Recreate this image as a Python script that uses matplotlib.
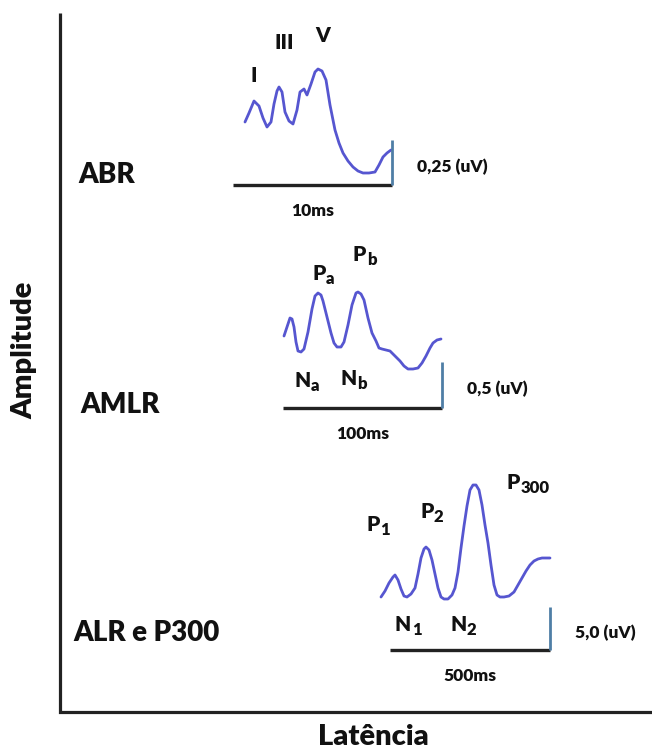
import matplotlib
matplotlib.use("Agg")
import matplotlib.pyplot as plt

# ---------------- data (in picture coordinates) -------------
abr_x = [245, 249, 254, 259, 263, 267, 271, 274, 277, 279, 282, 285, 289, 293, 297, 300, 304, 307,
         311, 315, 318, 322, 326, 330, 335, 339, 343, 348, 353, 358, 363, 369, 375, 379, 383, 387, 391]
abr_y = [122, 113, 101, 106, 118, 127, 122, 104, 91, 87, 92, 112, 121, 124, 110, 92, 89, 95,
         84, 72, 69, 71, 80, 105, 130, 143, 153, 161, 167, 171, 173, 173, 172, 165, 157, 153, 150]

amlr_x = [284, 287, 290, 292, 294, 296, 298, 301, 304, 308, 312, 315, 318, 321, 323, 327, 331,
          334, 337, 341, 344, 348, 352, 356, 358, 361, 364, 368, 372, 376, 379, 382, 386, 390,
          395, 400, 404, 408, 413, 418, 422, 426, 430, 433, 437, 441]
amlr_y = [336, 327, 318, 319, 327, 342, 351, 352, 349, 332, 309, 296, 293, 295, 301, 317, 333,
          343, 347, 347, 342, 325, 305, 293, 292, 294, 300, 318, 333, 341, 348, 349, 350, 351,
          356, 361, 366, 369, 369, 368, 363, 356, 348, 343, 340, 339]

alr_x = [381, 385, 389, 393, 395, 398, 401, 404, 407, 411, 415, 418, 421, 424, 426, 429, 432,
         435, 438, 441, 444, 448, 452, 455, 458, 461, 464, 467, 470, 473, 476, 479, 482, 485,
         488, 491, 494, 497, 500, 504, 509, 514, 518, 522, 526, 530, 534, 538, 542, 546, 550]
alr_y = [597, 591, 583, 577, 575, 580, 589, 596, 597, 594, 588, 574, 558, 549, 547, 550, 560,
         574, 588, 597, 599, 599, 595, 588, 572, 548, 526, 506, 490, 485, 485, 490, 505, 525,
         543, 565, 585, 595, 597, 597, 596, 592, 585, 578, 571, 565, 561, 559, 558, 558, 558]

# scale bars: (x_start, x_end, y_bar, y_top_of_vertical)
scale_bars = {"ABR": (233, 392, 185, 140), "AMLR": (283, 442, 408, 362), "ALR": (390, 550, 650, 607)}
time_labels = {"ABR": "10ms", "AMLR": "100ms", "ALR": "500ms"}
amp_labels = {"ABR": "0,25 (uV)", "AMLR": "0,5 (uV)", "ALR": "5,0 (uV)"}
group_labels = ["ABR", "AMLR", "ALR e P300"]

# peak labels: (main, subscript, x_left, baseline_y)
peaks = [("I", "", 250, 82), ("III", "", 275, 49), ("V", "", 315, 42),
         ("P", "a", 312, 280), ("P", "b", 353, 261), ("N", "a", 294, 387), ("N", "b", 340, 385),
         ("P", "1", 366, 531), ("P", "2", 420, 518), ("P", "300", 507, 489),
         ("N", "1", 395, 631), ("N", "2", 450, 631)]

# ---------------- figure --------------------------------------------------------------
W, H = 652, 749
fig = plt.figure(figsize=(W / 100, H / 100), dpi=100)
ax = fig.add_axes([0, 0, 1, 1])
ax.set_xlim(0, W)
ax.set_ylim(H, 0)
ax.axis("off")

FONT = "Lato"
WT = "heavy"
TXT = "#111111"
WAVE = "#5656d0"
VBAR = "#4f7ea6"

# axes
ax.plot([60, 60, 652], [13, 712, 712], color="#222222", lw=2.3, solid_joinstyle="miter",
        solid_capstyle="butt")
ax.text(24, 350, "Amplitude", rotation=90, ha="center", va="center", fontsize=21,
        fontweight=WT, family=FONT, color=TXT)
ax.text(373, 737, "Latência", ha="center", va="center", fontsize=21,
        fontweight=WT, family=FONT, color=TXT)

# waveforms
for xs, ys in [(abr_x, abr_y), (amlr_x, amlr_y), (alr_x, alr_y)]:
    ax.plot(xs, ys, color=WAVE, lw=2.0, solid_joinstyle="round", solid_capstyle="round")

# scale bars and their labels
for key in ["ABR", "AMLR", "ALR"]:
    x0, x1, yb, yt = scale_bars[key]
    ax.plot([x0, x1], [yb, yb], color="#222222", lw=2.4, solid_capstyle="butt")
    ax.plot([x1, x1], [yt, yb], color=VBAR, lw=2.0, solid_capstyle="butt")
    ax.text((x0 + x1) / 2, yb + 26, time_labels[key], ha="center", va="center",
            fontsize=12.5, fontweight=WT, family=FONT, color=TXT)
    ax.text(x1 + 25, (yt + yb) / 2 + 4, amp_labels[key], ha="left", va="center",
            fontsize=12.5, fontweight=WT, family=FONT, color=TXT)

# group labels
for lbl, (x, y) in zip(group_labels, [(78, 175), (80, 405), (73, 633)]):
    ax.text(x, y, lbl, ha="left", va="center", fontsize=20, fontweight=WT,
            family=FONT, color=TXT)

# peak labels
for main, sub, x, y in peaks:
    t = ax.text(x, y, main, ha="left", va="baseline", fontsize=15, fontweight=WT,
                family=FONT, color=TXT)
    if sub:
        ax.annotate(sub, xy=(1.0, 0.0), xycoords=t, xytext=(0.3, -0.6),
                    textcoords="offset points", ha="left", va="baseline",
                    fontsize=12, fontweight=WT, family=FONT, color=TXT)

fig.savefig("out.png", dpi=100, facecolor="white")
